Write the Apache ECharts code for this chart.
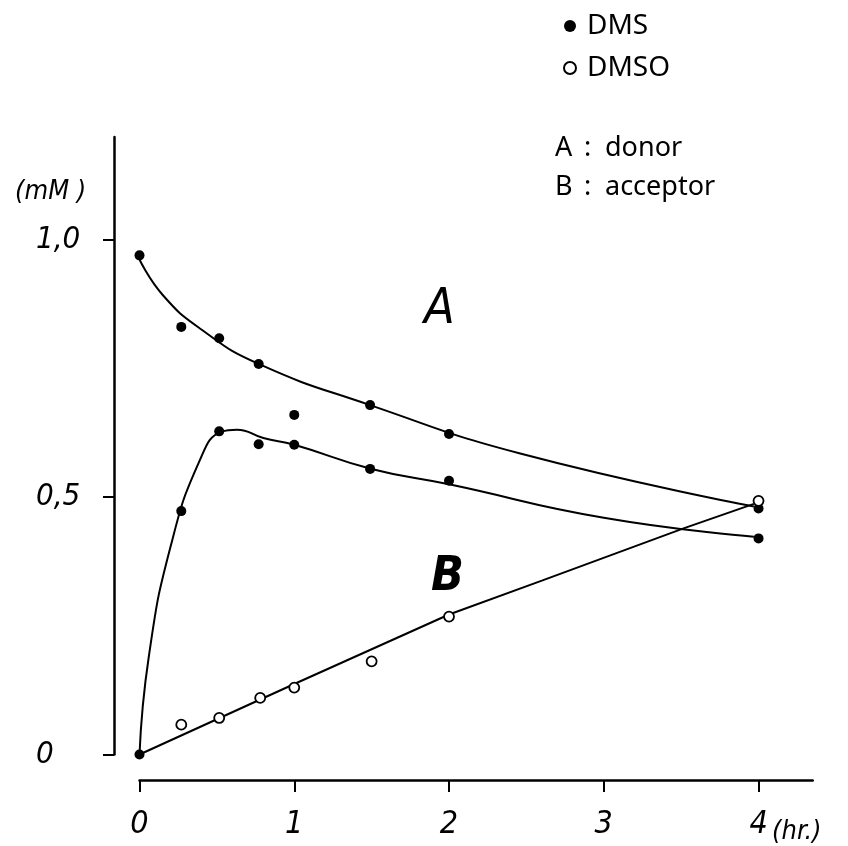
<!DOCTYPE html>
<html>
<head>
<meta charset="utf-8">
<script src="https://cdn.jsdelivr.net/npm/echarts@6/dist/echarts.min.js"></script>
<style>
  html, body { margin: 0; padding: 0; background: #fff; }
  #chartWrap { width: 848px; height: 846px; }
</style>
</head>
<body>
<div id="chartWrap"></div>
<script>
// measured points (hr., mM)
const donorTime = [0, 0.27, 0.515, 0.77, 1.0, 1.49, 2.0, 4.0];
const donorDMS = [0.97, 0.831, 0.809, 0.759, 0.66, 0.679, 0.623, 0.478];

const accTime = [0, 0.27, 0.515, 0.77, 1.0, 1.49, 2.0, 4.0];
const accDMS = [0, 0.473, 0.628, 0.603, 0.602, 0.555, 0.532, 0.42];

const dmsoTime = [0.27, 0.515, 0.78, 1.0, 1.5, 2.0, 4.0];
const accDMSO = [0.058, 0.071, 0.11, 0.13, 0.181, 0.268, 0.493];

// fitted curves
const curveATime = [0, 0.15, 0.4, 0.77, 1.49, 2.46, 3.97];
const curveAVal = [0.962, 0.893, 0.826, 0.759, 0.679, 0.585, 0.482];

const curveBTime = [0, 0.06, 0.2, 0.39, 0.53, 0.63, 0.8, 1.0, 1.5, 2.0, 3.0, 3.97];
const curveBVal = [0, 0.19, 0.403, 0.572, 0.627, 0.631, 0.615, 0.602, 0.555, 0.525, 0.46, 0.423];

const lineDmsoTime = [0, 1.0, 2.0, 2.6, 3.52, 3.97];
const lineDmsoVal = [0, 0.137, 0.272, 0.338, 0.44, 0.487];

const xTicks = [0, 1, 2, 3, 4];
const yTicks = [0, 0.5, 1.0];

const italicFont = '"DejaVu Sans Condensed", "Liberation Sans Narrow", sans-serif';
const plainFont = '"Noto Sans", "DejaVu Sans", sans-serif';

function pairs(xs, ys) {
    return xs.map(function (x, i) { return [x, ys[i]]; });
}

let myChart = echarts.init(document.getElementById('chartWrap'));

const lineStyle = {color: '#000', width: 2};

myChart.setOption({
    animation: false,
    backgroundColor: '#fff',
    grid: {left: 139.5, right: 35.3, top: 137, bottom: 91.5},
    legend: {
        data: ['DMS', 'DMSO'],
        orient: 'vertical',
        left: 558,
        top: 6,
        itemWidth: 12,
        itemHeight: 12,
        itemGap: 12,
        selectedMode: false,
        textStyle: {
            fontFamily: plainFont,
            fontSize: 28,
            color: '#000',
            lineHeight: 30,
            padding: [0, 0, 0, 6]
        }
    },
    xAxis: {
        type: 'value',
        min: 0,
        max: 4.35,
        offset: 25.5,
        splitLine: {show: false},
        axisLine: {show: true, onZero: false, lineStyle: {color: '#000', width: 2.5}},
        axisTick: {show: true, customValues: xTicks, length: 12, lineStyle: {color: '#000', width: 2}},
        axisLabel: {
            customValues: xTicks,
            margin: 29,
            fontFamily: italicFont,
            fontStyle: 'italic',
            fontSize: 32,
            color: '#000'
        }
    },
    yAxis: {
        type: 'value',
        min: 0,
        max: 1.2,
        offset: 25.5,
        splitLine: {show: false},
        axisLine: {show: true, onZero: false, lineStyle: {color: '#000', width: 2.5}},
        axisTick: {show: true, customValues: yTicks, length: 11, lineStyle: {color: '#000', width: 2}},
        axisLabel: {
            customValues: yTicks,
            margin: 78,
            align: 'left',
            fontFamily: italicFont,
            fontStyle: 'italic',
            fontSize: 31,
            color: '#000',
            formatter: function (v) {
                return v === 0 ? '0' : v.toFixed(1).replace('.', ',');
            }
        }
    },
    graphic: [
        {type: 'text', left: 15, top: 178, style: {text: '(mM )', font: 'italic 27px ' + italicFont, fill: '#000'}},
        {type: 'text', left: 772, top: 818, style: {text: '(hr.)', font: 'italic 27px ' + italicFont, fill: '#000'}},
        {type: 'text', left: 424, top: 285, style: {text: 'A', font: 'italic 50px ' + italicFont, fill: '#000'}},
        {type: 'text', left: 431, top: 554, style: {text: 'B', font: 'italic bold 48px ' + italicFont, fill: '#000'}},
        {type: 'text', left: 555, top: 135, style: {text: 'A', font: '27px ' + plainFont, fill: '#000'}},
        {type: 'text', left: 584, top: 135, style: {text: ':', font: '27px ' + plainFont, fill: '#000'}},
        {type: 'text', left: 605, top: 135, style: {text: 'donor', font: '27px ' + plainFont, fill: '#000'}},
        {type: 'text', left: 555, top: 174, style: {text: 'B', font: '27px ' + plainFont, fill: '#000'}},
        {type: 'text', left: 584, top: 174, style: {text: ':', font: '27px ' + plainFont, fill: '#000'}},
        {type: 'text', left: 605, top: 174, style: {text: 'acceptor', font: '27px ' + plainFont, fill: '#000'}}
    ],
    series: [
        {
            name: 'curveA',
            type: 'line',
            data: pairs(curveATime, curveAVal),
            smooth: 0.5,
            showSymbol: false,
            silent: true,
            lineStyle: lineStyle
        },
        {
            name: 'curveB',
            type: 'line',
            data: pairs(curveBTime, curveBVal),
            smooth: 0.5,
            showSymbol: false,
            silent: true,
            lineStyle: lineStyle
        },
        {
            name: 'lineDMSO',
            type: 'line',
            data: pairs(lineDmsoTime, lineDmsoVal),
            showSymbol: false,
            silent: true,
            lineStyle: lineStyle
        },
        {
            name: 'DMS',
            type: 'scatter',
            symbol: 'circle',
            symbolSize: 10,
            itemStyle: {color: '#000', opacity: 1},
            data: pairs(donorTime, donorDMS).concat(pairs(accTime, accDMS)),
            z: 5
        },
        {
            name: 'DMSO',
            type: 'scatter',
            symbol: 'circle',
            symbolSize: 10,
            itemStyle: {color: '#fff', borderColor: '#000', borderWidth: 1.8, opacity: 1},
            data: pairs(dmsoTime, accDMSO),
            z: 6
        }
    ]
});
</script>
</body>
</html>
